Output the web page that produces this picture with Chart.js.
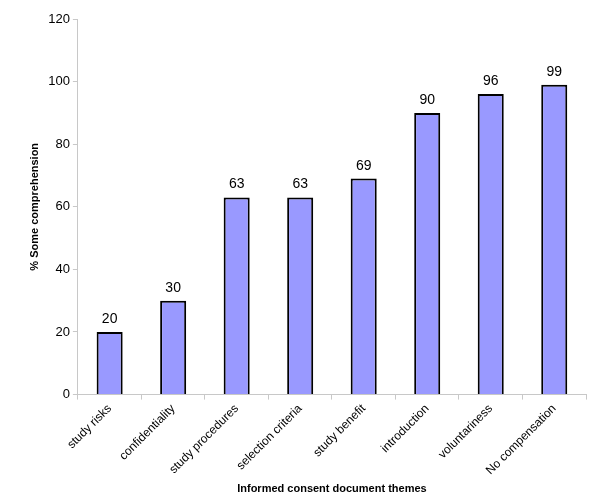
<!DOCTYPE html>
<html>
<head>
<meta charset="utf-8">
<script src="https://cdn.jsdelivr.net/npm/chart.js@4"></script>
<style>
  body { margin: 0; background: #fff; }
  #wrap { width: 600px; height: 502px; }
</style>
</head>
<body>
<div id="wrap"><canvas id="myChart"></canvas></div>
<script>
const themes = ["study risks", "confidentiality", "study procedures", "selection criteria",
  "study benefit", "introduction", "voluntariness", "No compensation"];
const comprehension = [20, 30, 63, 63, 69, 90, 96, 99];
const yTicks = [0, 20, 40, 60, 80, 100, 120];

// write the value above each bar
const barLabels = {
  id: "barLabels",
  afterDatasetsDraw: function (chart) {
    const ctx = chart.ctx;
    const meta = chart.getDatasetMeta(0);
    ctx.save();
    ctx.font = "14px 'Liberation Sans', Arial, sans-serif";
    ctx.fillStyle = "#000";
    ctx.textAlign = "center";
    ctx.textBaseline = "alphabetic";
    meta.data.forEach(function (bar, i) {
      ctx.fillText(comprehension[i], bar.x, bar.y - 9);
    });
    ctx.restore();
  }
};

const ctx1 = document.getElementById("myChart").getContext("2d");
const myChart = new Chart(ctx1, {
  type: "bar",
  data: {
    labels: themes,
    datasets: [{
      data: comprehension,
      backgroundColor: "#9999FF",
      borderColor: "#000",
      borderWidth: 2,
      barPercentage: 0.41,
      categoryPercentage: 1
    }]
  },
  options: {
    responsive: true,
    maintainAspectRatio: false,
    animation: false,
    layout: { padding: { left: 24, right: 14, top: 19, bottom: 2 } },
    plugins: {
      legend: { display: false },
      tooltip: { enabled: false }
    },
    scales: {
      x: {
        grid: { offset: true, drawOnChartArea: false, drawTicks: true, tickLength: 5, color: "#c8c8c8" },
        border: { color: "#c8c8c8" },
        ticks: {
          maxRotation: 45, minRotation: 45, color: "#000", padding: 2,
          font: { family: "'Liberation Sans', Arial, sans-serif", size: 12 }
        },
        title: {
          display: true, text: "Informed consent document themes", color: "#000",
          font: { family: "'Liberation Sans', Arial, sans-serif", size: 11, weight: "bold" },
          padding: { top: 3 }
        }
      },
      y: {
        min: 0, max: 120,
        afterBuildTicks: function (axis) {
          axis.ticks = yTicks.map(function (v) { return { value: v }; });
        },
        grid: { drawOnChartArea: false, drawTicks: true, tickLength: 5, color: "#c8c8c8" },
        border: { color: "#c8c8c8" },
        ticks: {
          color: "#000", padding: 3,
          font: { family: "'Liberation Sans', Arial, sans-serif", size: 13 }
        },
        title: {
          display: true, text: "% Some comprehension", color: "#000",
          font: { family: "'Liberation Sans', Arial, sans-serif", size: 11, weight: "bold" },
          padding: { top: 4, bottom: 4 }
        }
      }
    }
  },
  plugins: [barLabels]
});
</script>
</body>
</html>
